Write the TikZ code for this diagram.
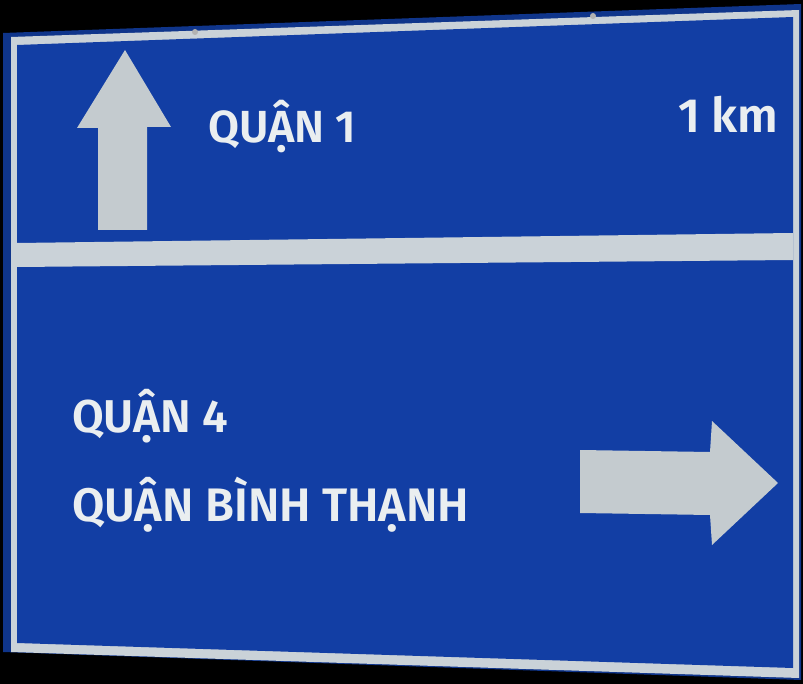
\documentclass[tikz,border=0pt]{standalone}
\usepackage{fontspec}
\setmainfont{Fira Sans}[BoldFont={Fira Sans SemiBold}]
\usepackage{tikz}
\usetikzlibrary{positioning}

\definecolor{signblue}{RGB}{18,62,164}
\definecolor{signrim}{RGB}{202,210,216}
\definecolor{arrowgrey}{RGB}{196,203,207}
\definecolor{lettering}{RGB}{234,238,240}

\begin{document}
\begin{tikzpicture}[
  x=1pt, y=-1pt,
  placename/.style={anchor=base west, inner sep=0pt, text=lettering},
  rim/.style={fill=signrim},
  arrowshape/.style={fill=arrowgrey}
]
% ---- Frame ----
\fill[black] (0,0) rectangle (803,684);
\useasboundingbox (0,0) rectangle (803,684);

% ---- Sign plate ----
\fill[signblue!85!black] (3,33) -- (801,4) -- (801,680) -- (3,652) -- cycle;
\fill[rim] (11,37) -- (799,10) -- (799,678) -- (11,652) -- cycle;
\fill[signblue] (17,45) -- (793,17) -- (793,668) -- (17,643) -- cycle;

% ---- Divider ----
\fill[rim] (17,243) -- (793,233) -- (793,260) -- (17,267) -- cycle;

% ---- Bolts ----
\fill[gray!60] (195,32) circle (3);
\fill[gray!60] (593,16) circle (3);

% ---- Arrows ----
\fill[arrowshape] (125,50) -- (171,127) -- (147,127) -- (147,230)
  -- (98,230) -- (98,128) -- (77,128) -- cycle;
\fill[arrowshape] (580,450) -- (710,452) -- (712,421) -- (778,483)
  -- (712,545) -- (710,515) -- (580,513) -- cycle;

% ---- Upper panel ----
\node[placename, font=\fontsize{45}{54}\selectfont\bfseries] (q1) at (208,143) {QUẬN 1};
\node[placename, font=\fontsize{48}{58}\selectfont\bfseries] (km) at (678,133) {1 km};

% ---- Lower panel ----
\node[placename, font=\fontsize{46}{56}\selectfont\bfseries] (q4) at (72,432) {QUẬN 4};
\node[placename, font=\fontsize{47}{57}\selectfont\bfseries] (qbt) at (72,521) {QUẬN BÌNH THẠNH};

\end{tikzpicture}
\end{document}
